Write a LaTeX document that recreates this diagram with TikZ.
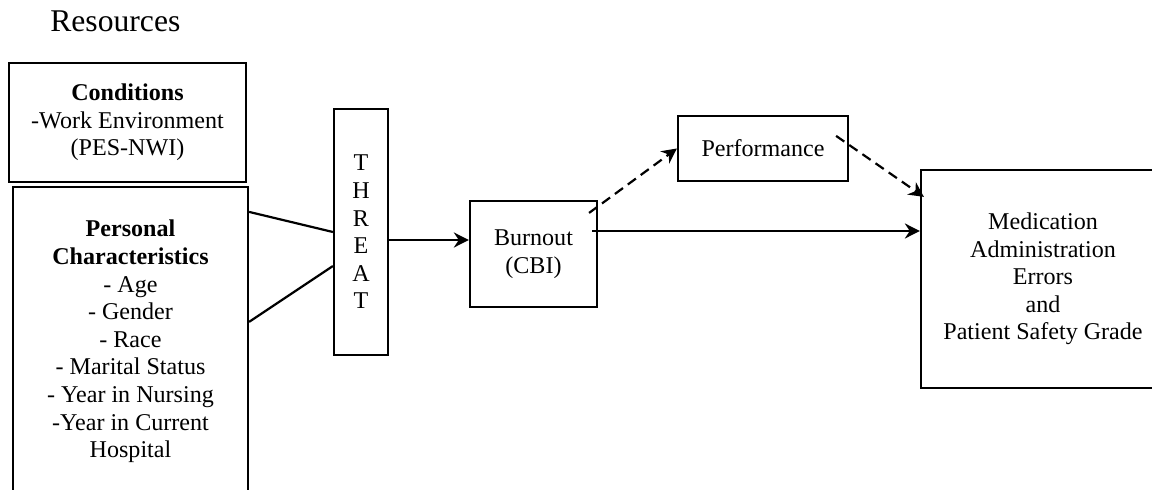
\documentclass[tikz,border=0pt]{standalone}
\usepackage{fontspec}
\setmainfont{Liberation Serif}
\usetikzlibrary{arrows.meta,positioning}

\begin{document}
\begin{tikzpicture}[
  x=0.2mm, y=-0.2mm,
  font=\fontsize{13.7}{15.7}\selectfont,
  box/.style={draw, line width=1.25pt, align=center, inner sep=2pt},
  conn/.style={line width=1.25pt},
  arr/.style={conn, -{Stealth[length=3mm, width=3mm]}},
  dsh/.style={arr, dash pattern=on 2mm off 1.2mm}]
\useasboundingbox (0,0) rectangle (1152,490);
\clip (0,0) rectangle (1152,490);
% heading
\node[anchor=base west, inner sep=0pt, font=\fontsize{18}{21}\selectfont] (res) at (50,31.5) {Resources};
% resources (left column)
\node[box, minimum width=4.74cm, minimum height=2.38cm] (cond) at (127.5,122.5) {\textbf{Conditions}\\-Work Environment\\(PES-NWI)};
\node[box, minimum width=4.7cm, minimum height=6.18cm] (pers) at (130.5,341.5) {\textbf{Personal}\\\textbf{Characteristics}\\- Age\\- Gender\\- Race\\- Marital Status\\- Year in Nursing\\-Year in Current\\Hospital};
% threat, burnout, outcomes
\node[box, minimum width=1.08cm, minimum height=4.92cm] (thr) at (361,232) {T\\H\\R\\E\\A\\T};
\node[box, minimum width=2.54cm, minimum height=2.12cm] (burn) at (533.5,254) {Burnout\\(CBI)};
\node[box, minimum width=3.4cm, minimum height=1.3cm] (perf) at (763,148.5) {Performance};
\node[box, minimum width=4.88cm, minimum height=4.36cm] (med) at (1043,279) {Medication\\Administration\\Errors\\and\\Patient Safety Grade};
% connectors
\draw[conn] ([yshift=-0.52cm]pers.north east) -- (thr.west);
\draw[conn] ([yshift=-2.72cm]pers.north east) -- ([yshift=-0.68cm]thr.west);
\draw[arr] ([yshift=-0.16cm]thr.east) coordinate (t) -- (t -| burn.west);
\draw[arr] ([xshift=-0.12cm,yshift=0.46cm]burn.east) coordinate (b) -- (b -| med.west);
\draw[dsh] ([xshift=-0.18cm,yshift=-0.26cm]burn.north east) -- (perf.west);
\draw[dsh] ([xshift=-0.26cm,yshift=-0.42cm]perf.north east) -- ([xshift=0.08cm,yshift=-0.56cm]med.north west);
\end{tikzpicture}
\end{document}
